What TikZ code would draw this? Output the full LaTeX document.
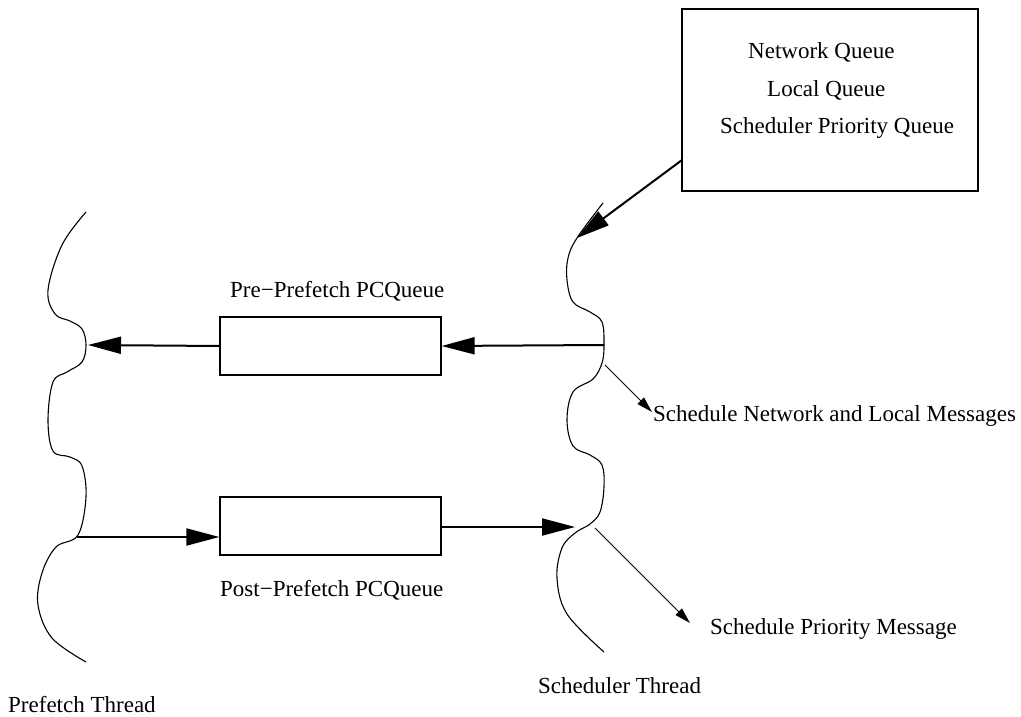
\documentclass[tikz,border=0pt]{standalone}
\usepackage{fontspec}
\setmainfont{Liberation Serif}
\usetikzlibrary{arrows.meta,calc}

\begin{document}
\begin{tikzpicture}[x=1pt,y=-1pt,
  every node/.style={font=\fontsize{23}{27}\selectfont, inner sep=0pt},
  box/.style={draw, line width=1.3pt, fill=white},
  thread/.style={line width=1.1pt},
  bigarrow/.style={line width=2pt, -{Triangle[length=33pt,width=17pt]}},
  smallarrow/.style={line width=1pt, -{Triangle[length=16pt,width=9pt]}},
  lbl/.style={anchor=base west}]

\useasboundingbox (0,0) rectangle (1021,717);

% prefetch thread (left wavy line)
\draw[thread] plot[smooth, tension=0.6] coordinates {
  (86,212) (62,245) (48,290) (55,314) (70,321) (82,329) (86,345)
  (82,362) (67,372) (53,382) (48,420) (53,451) (70,457) (82,466)
  (86,497) (78,535) (56,547) (42,573) (38,605) (52,638) (86,662)};

% scheduler thread (right wavy line)
\draw[thread] plot[smooth, tension=0.6] coordinates {
  (603,203) (577,238) (568,258) (567,280) (573,302) (590,312) (602,322)
  (604,345) (602,363) (593,379) (573,392) (567,420) (573,446) (590,455)
  (602,465) (604,487) (600,512) (590,524) (575,533) (562,548) (557,578)
  (567,614) (604,652)};

% queues feeding the scheduler
\node[box, minimum width=296pt, minimum height=182pt] (queues) at (830,100) {};
\node[lbl] (nq) at (748,59) {Network Queue};
\node[lbl] (lq) at (767,96) {Local Queue};
\node[lbl] (sq) at (720,133) {Scheduler Priority Queue};

% producer/consumer queues between the threads
\node[box, minimum width=221pt, minimum height=58pt] (pre) at (330.5,346) {};
\node[box, minimum width=221pt, minimum height=58pt] (post) at (330.5,526) {};
\node[lbl] (prelbl) at (230,297) {Pre\textminus Prefetch PCQueue};
\node[lbl] (postlbl) at (220,596) {Post\textminus Prefetch PCQueue};

% attachment points on the thread lines
\coordinate (qout) at (682,160);
\coordinate (sin) at (577,238);
\coordinate (sout) at (604,345);
\coordinate (pin) at (88,345);
\coordinate (pout) at (77,537);
\coordinate (sin2) at (575,527);
\coordinate (sn1) at (605,365);
\coordinate (sn2) at (652,412);
\coordinate (sp1) at (595,528);
\coordinate (sp2) at (690,623);

% data flow
\draw[bigarrow] (qout) -- (sin);
\draw[bigarrow] (sout) -- (pre.east);
\draw[bigarrow] (pre.west) -- (pin);
\draw[bigarrow] (pout) -- (pout -| post.west);
\draw[bigarrow] (post.east |- sin2) -- (sin2);

% scheduling actions
\draw[smallarrow] (sn1) -- (sn2);
\draw[smallarrow] (sp1) -- (sp2);
\node[lbl] (snl) at (653,421) {Schedule Network and Local Messages};
\node[lbl] (spm) at (710,634) {Schedule Priority Message};

% thread names
\node[lbl] (pt) at (8,712) {Prefetch Thread};
\node[lbl] (st) at (538,693) {Scheduler Thread};
\end{tikzpicture}
\end{document}
